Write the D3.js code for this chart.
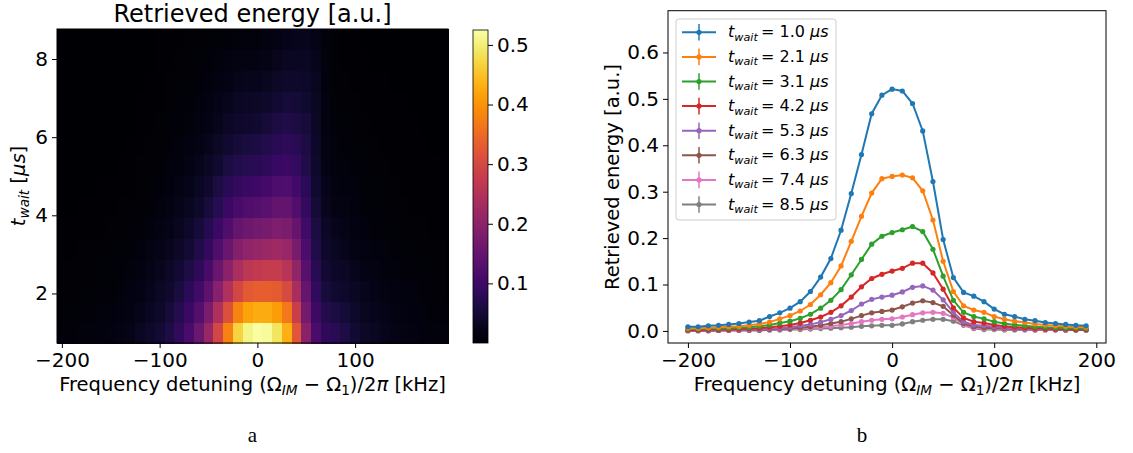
<!DOCTYPE html>
<html lang="en">
<head>
<meta charset="UTF-8">
<title>Retrieved energy vs detuning</title>
<script src="https://d3js.org/d3.v7.min.js"></script>
<style>
  body { margin: 0; padding: 0; background: #fff; }
  svg { display: block; font-family: "DejaVu Sans", sans-serif; }
</style>
</head>
<body>
<script>
// detuning (kHz) = column centres, shared by both panels
var detuning = [-200, -190, -180, -170, -160, -150, -140, -130, -120, -110,
                -100, -90, -80, -70, -60, -50, -40, -30, -20, -10,
                0, 10, 20, 30, 40, 50, 60, 70, 80, 90,
                100, 110, 120, 130, 140, 150, 160, 170, 180, 190];

// waiting times (us) = heatmap rows
var twait = [1.0, 1.536, 2.071, 2.607, 3.143, 3.679, 4.214, 4.75, 5.286, 5.821, 6.357, 6.893, 7.429, 7.964, 8.5];

// retrieved energy, one row per twait
var energy = [
  [.009,.009,.011,.012,.014,.016,.019,.022,.031,.039, .049,.063,.085,.116,.156,.217,.296,.380,.468,.508, .521,.517,.490,.431,.322,.197,.115,.083,.075,.063, .047,.036,.031,.025,.022,.018,.016,.014,.012,.011],
  [.008,.008,.009,.010,.011,.013,.015,.018,.024,.032, .040,.052,.070,.096,.129,.178,.243,.312,.382,.418, .427,.428,.412,.368,.282,.172,.100,.068,.059,.051, .039,.030,.026,.021,.018,.015,.013,.012,.010,.009],
  [.006,.006,.007,.008,.009,.010,.012,.015,.019,.026, .033,.043,.057,.078,.104,.140,.193,.247,.297,.328, .333,.336,.330,.302,.239,.150,.085,.054,.045,.040, .031,.025,.021,.018,.015,.013,.011,.010,.009,.008],
  [.005,.005,.006,.006,.007,.008,.010,.012,.016,.021, .027,.035,.046,.062,.083,.113,.155,.198,.240,.264, .271,.276,.276,.257,.206,.133,.075,.047,.038,.033, .025,.020,.017,.014,.012,.010,.009,.008,.007,.006],
  [.004,.004,.005,.005,.006,.007,.008,.010,.013,.017, .021,.027,.036,.049,.066,.089,.121,.154,.187,.204, .212,.218,.225,.214,.176,.118,.066,.040,.031,.026, .020,.016,.013,.011,.009,.008,.007,.006,.006,.005],
  [.003,.003,.004,.004,.004,.005,.006,.008,.010,.013, .017,.022,.029,.039,.052,.070,.095,.122,.148,.160, .167,.173,.183,.178,.150,.104,.058,.034,.025,.021, .016,.013,.010,.009,.007,.006,.005,.005,.004,.004],
  [.002,.002,.003,.003,.003,.004,.005,.006,.008,.010, .013,.017,.023,.030,.040,.054,.073,.095,.113,.122, .129,.135,.146,.146,.125,.090,.050,.028,.020,.017, .013,.010,.008,.007,.006,.005,.004,.004,.003,.003],
  [.002,.002,.002,.002,.003,.003,.004,.004,.006,.008, .010,.014,.018,.024,.032,.043,.058,.076,.090,.097, .102,.109,.119,.121,.106,.078,.045,.024,.016,.014, .011,.008,.007,.006,.005,.004,.004,.003,.003,.003],
  [.001,.001,.002,.002,.002,.002,.003,.003,.005,.006, .008,.011,.014,.019,.025,.033,.044,.058,.068,.073, .077,.084,.094,.097,.088,.067,.040,.020,.013,.011, .009,.007,.006,.005,.004,.004,.003,.003,.003,.003],
  [.001,.001,.001,.001,.002,.002,.002,.003,.004,.005, .006,.009,.011,.015,.020,.026,.035,.045,.053,.057, .061,.068,.077,.081,.075,.060,.037,.018,.011,.009, .007,.006,.005,.004,.004,.003,.003,.003,.002,.002],
  [.001,.001,.001,.001,.002,.002,.002,.002,.003,.004, .005,.007,.009,.012,.016,.020,.026,.033,.039,.042, .045,.052,.060,.065,.061,.053,.034,.016,.009,.007, .006,.005,.004,.004,.003,.003,.003,.002,.002,.002],
  [.001,.001,.001,.001,.001,.002,.002,.002,.003,.003, .004,.006,.007,.010,.013,.016,.021,.026,.031,.033, .035,.041,.047,.052,.050,.045,.031,.015,.008,.006, .005,.004,.004,.003,.003,.003,.002,.002,.002,.002],
  [.001,.001,.001,.001,.001,.001,.002,.002,.002,.003, .004,.005,.006,.008,.010,.013,.016,.020,.023,.025, .026,.030,.035,.039,.040,.038,.029,.013,.006,.005, .004,.003,.003,.003,.002,.002,.002,.002,.002,.002],
  [.001,.001,.001,.001,.001,.001,.001,.002,.002,.002, .003,.004,.005,.006,.008,.010,.012,.015,.017,.018, .019,.022,.027,.031,.032,.031,.025,.012,.005,.004, .003,.003,.002,.002,.002,.002,.002,.002,.002,.002],
  [.000,.000,.000,.001,.001,.001,.001,.001,.002,.002, .003,.003,.004,.005,.006,.007,.008,.010,.011,.012, .012,.015,.020,.023,.025,.025,.021,.012,.005,.003, .003,.002,.002,.002,.002,.002,.002,.002,.002,.002]
];

// rows drawn as curves in panel b, with their legend labels
var curveRows = [0, 2, 4, 6, 8, 10, 12, 14];
var legendTimes = ["1.0", "2.1", "3.1", "4.2", "5.3", "6.3", "7.4", "8.5"];
var curveColors = ["#1f77b4", "#ff7f0e", "#2ca02c", "#d62728", "#9467bd", "#8c564b", "#e377c2", "#7f7f7f"];

var xTicksA = [-200, -100, 0, 100];
var yTicksA = [2, 4, 6, 8];
var cbTicks = [0.1, 0.2, 0.3, 0.4, 0.5];
var xTicksB = [-200, -100, 0, 100, 200];
var yTicksB = [0.0, 0.1, 0.2, 0.3, 0.4, 0.5, 0.6];

var W = 1133, H = 453;
var tickFont = 20, labelFont = 19.5, legendFont = 16;

var svg = d3.select("body").append("svg")
    .attr("width", W).attr("height", H);
svg.append("rect").attr("width", W).attr("height", H).attr("fill", "#fff");

// writes a mathtext-like label made of parts into a text element
function mathText(sel, parts, size) {
    var prevSub = false;
    parts.forEach(function(p) {
        var ts = sel.append("tspan").text(p.t);
        if (p.it) ts.style("font-style", "italic");
        if (p.sub) {
            ts.attr("font-size", size * 0.7);
            if (!prevSub) ts.attr("dy", size * 0.22);
        } else if (prevSub) {
            ts.attr("dy", -size * 0.22);
        }
        prevSub = !!p.sub;
    });
}

var xlabelParts = [
    {t: "Frequency detuning (Ω"}, {t: "IM", it: true, sub: true},
    {t: " − Ω"}, {t: "1", sub: true}, {t: ")/2"}, {t: "π", it: true}, {t: " [kHz]"}
];

function styleAxis(g) {
    g.selectAll("path").attr("stroke", "#000");
    g.selectAll("line").attr("stroke", "#000");
    g.selectAll("text").attr("fill", "#000").attr("font-size", tickFont)
        .attr("font-family", "DejaVu Sans, sans-serif");
}

// ---------- panel a: heatmap ----------
var half = (twait[1] - twait[0]) / 2;
var xa = d3.scaleLinear().domain([-205, 195]).range([57, 448]);
var ya = d3.scaleLinear().domain([twait[0] - half, twait[twait.length - 1] + half]).range([343, 29]);
var color = d3.scaleSequential(d3.interpolateInferno).domain([0, 0.525]).clamp(true);

var cells = [];
energy.forEach(function(row, i) {
    row.forEach(function(v, j) {
        cells.push({t: twait[i], f: detuning[j], v: v});
    });
});

svg.append("g").selectAll("rect")
    .data(cells)
    .join("rect")
    .attr("x", function(d) { return xa(d.f - 5); })
    .attr("y", function(d) { return ya(d.t + half); })
    .attr("width", function(d) { return xa(d.f + 5) - xa(d.f - 5) + 0.5; })
    .attr("height", function(d) { return ya(d.t - half) - ya(d.t + half) + 0.5; })
    .attr("fill", function(d) { return color(d.v); })
    .attr("shape-rendering", "crispEdges");

svg.append("rect")
    .attr("x", 57).attr("y", 29).attr("width", 448 - 57).attr("height", 343 - 29)
    .attr("fill", "none").attr("stroke", "#000").attr("stroke-width", 1);

svg.append("g").attr("transform", "translate(0,343)")
    .call(d3.axisBottom(xa).tickValues(xTicksA).tickSize(5).tickSizeOuter(0).tickPadding(5))
    .call(styleAxis).select(".domain").remove();
svg.append("g").attr("transform", "translate(57,0)")
    .call(d3.axisLeft(ya).tickValues(yTicksA).tickSize(5).tickSizeOuter(0).tickPadding(4))
    .call(styleAxis).select(".domain").remove();

svg.append("text").attr("x", 252.5).attr("y", 22).attr("text-anchor", "middle")
    .attr("font-size", 24).text("Retrieved energy [a.u.]");

mathText(svg.append("text").attr("x", 252.5).attr("y", 391).attr("text-anchor", "middle")
    .attr("font-size", labelFont), xlabelParts, labelFont);

mathText(svg.append("text").attr("transform", "translate(25,186) rotate(-90)")
    .attr("text-anchor", "middle").attr("font-size", labelFont),
    [{t: "t", it: true}, {t: "wait", it: true, sub: true}, {t: " ["}, {t: "μs", it: true}, {t: "]"}], labelFont);

// colourbar
var cb = d3.scaleLinear().domain([0, 0.525]).range([343, 30]);
var grad = svg.append("defs").append("linearGradient").attr("id", "cbgrad")
    .attr("x1", 0).attr("y1", 1).attr("x2", 0).attr("y2", 0);
d3.range(0, 1.0001, 0.05).forEach(function(s) {
    grad.append("stop").attr("offset", s).attr("stop-color", d3.interpolateInferno(s));
});
svg.append("rect").attr("x", 473).attr("y", 30).attr("width", 15).attr("height", 313)
    .attr("fill", "url(#cbgrad)").attr("stroke", "#000").attr("stroke-width", 0.8);
svg.append("g").attr("transform", "translate(488,0)")
    .call(d3.axisRight(cb).tickValues(cbTicks).tickFormat(d3.format(".1f")).tickSize(5).tickPadding(4))
    .call(styleAxis).select(".domain").remove();

// ---------- panel b: curves ----------
var xb = d3.scaleLinear().domain([-219.5, 209.5]).range([668, 1106]);
var yb = d3.scaleLinear().domain([-0.026, 0.69]).range([343, 10.7]);

svg.append("g").attr("transform", "translate(0,343)")
    .call(d3.axisBottom(xb).tickValues(xTicksB).tickSize(5).tickSizeOuter(0).tickPadding(5))
    .call(styleAxis).select(".domain").remove();
svg.append("g").attr("transform", "translate(668,0)")
    .call(d3.axisLeft(yb).tickValues(yTicksB).tickFormat(d3.format(".1f")).tickSize(5).tickSizeOuter(0).tickPadding(4))
    .call(styleAxis).select(".domain").remove();

var line = d3.line()
    .x(function(d, j) { return xb(detuning[j]); })
    .y(function(d) { return yb(d); });

var series = svg.append("g").selectAll("g")
    .data(curveRows.slice().reverse())
    .join("g");
series.append("path")
    .attr("d", function(r) { return line(energy[r]); })
    .attr("fill", "none")
    .attr("stroke", function(r) { return curveColors[curveRows.indexOf(r)]; })
    .attr("stroke-width", 2);
series.selectAll("circle")
    .data(function(r) { return energy[r].map(function(v, j) { return {r: r, v: v, f: detuning[j]}; }); })
    .join("circle")
    .attr("cx", function(d) { return xb(d.f); })
    .attr("cy", function(d) { return yb(d.v); })
    .attr("r", 2.6)
    .attr("fill", function(d) { return curveColors[curveRows.indexOf(d.r)]; });

svg.append("rect")
    .attr("x", 668).attr("y", 10.7).attr("width", 1106 - 668).attr("height", 343 - 10.7)
    .attr("fill", "none").attr("stroke", "#000").attr("stroke-width", 1);

mathText(svg.append("text").attr("x", 887).attr("y", 391).attr("text-anchor", "middle")
    .attr("font-size", labelFont), xlabelParts, labelFont);

svg.append("text").attr("transform", "translate(619,177) rotate(-90)")
    .attr("text-anchor", "middle").attr("font-size", labelFont)
    .text("Retrieved energy [a.u.]");

// legend
var leg = svg.append("g");
leg.append("rect").attr("x", 676).attr("y", 19).attr("width", 160).attr("height", 201)
    .attr("rx", 3).attr("fill", "#fff").attr("fill-opacity", 0.8)
    .attr("stroke", "#ccc").attr("stroke-width", 1);
curveRows.forEach(function(r, i) {
    var y = 32.3 + i * 24.6;
    var c = curveColors[i];
    leg.append("line").attr("x1", 682).attr("x2", 716).attr("y1", y).attr("y2", y)
        .attr("stroke", c).attr("stroke-width", 2);
    leg.append("line").attr("x1", 699).attr("x2", 699).attr("y1", y - 8.3).attr("y2", y + 8.3)
        .attr("stroke", c).attr("stroke-width", 1.5);
    leg.append("circle").attr("cx", 699).attr("cy", y).attr("r", 2.6).attr("fill", c);
    mathText(leg.append("text").attr("x", 728).attr("y", y + 5).attr("font-size", legendFont),
        [{t: "t", it: true}, {t: "wait", it: true, sub: true}, {t: "\u2009= " + legendTimes[i] + " "}, {t: "μs", it: true}], legendFont);
});

// sub-figure captions
svg.append("text").attr("x", 252.5).attr("y", 442).attr("text-anchor", "middle")
    .attr("font-family", "Liberation Serif, serif").attr("font-size", 21).text("a");
svg.append("text").attr("x", 862).attr("y", 442).attr("text-anchor", "middle")
    .attr("font-family", "Liberation Serif, serif").attr("font-size", 21).text("b");
</script>
</body>
</html>
